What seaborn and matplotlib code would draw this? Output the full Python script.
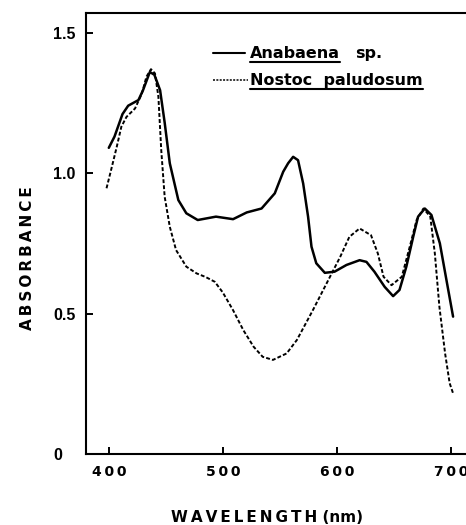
import matplotlib
matplotlib.use("Agg")
import matplotlib.pyplot as plt
import numpy as np
import pandas as pd
import seaborn as sns

# ---- data ----
ana_wl = [400, 405, 412, 417, 426, 430, 436, 440, 445, 449, 453.5, 461, 468, 478,
          494, 509, 521, 534, 545.6, 553, 557.3, 561.7, 566, 570.5, 574.8, 577.8,
          582, 589.5, 598, 608.5, 620, 626, 633, 642, 649.4, 655, 661, 667, 671.3,
          677.2, 683, 690.4, 696.2, 702]
ana_abs = [1.09, 1.13, 1.21, 1.24, 1.26, 1.295, 1.36, 1.35, 1.295, 1.18, 1.035,
           0.904, 0.857, 0.833, 0.845, 0.836, 0.860, 0.874, 0.928, 1.005, 1.035,
           1.058, 1.046, 0.963, 0.845, 0.738, 0.679, 0.645, 0.649, 0.673, 0.690,
           0.684, 0.649, 0.595, 0.562, 0.584, 0.667, 0.773, 0.845, 0.874, 0.851,
           0.750, 0.619, 0.489]

nos_wl = [398, 402, 407, 411, 415.5, 423, 429, 433, 437, 440.5, 443.5, 446, 449,
          453.5, 459, 468, 477, 485, 493, 500, 509, 518, 527, 535, 544, 556, 565,
          579, 591, 603, 611, 620, 630, 636, 641, 648, 657, 664, 670, 676, 682,
          686, 690, 695, 699, 702]
nos_abs = [0.946, 1.011, 1.094, 1.165, 1.20, 1.23, 1.283, 1.343, 1.37, 1.355,
           1.272, 1.082, 0.916, 0.809, 0.726, 0.667, 0.643, 0.63, 0.613, 0.575,
           0.512, 0.441, 0.382, 0.346, 0.335, 0.358, 0.406, 0.512, 0.607, 0.702,
           0.773, 0.803, 0.779, 0.714, 0.631, 0.601, 0.631, 0.738, 0.833, 0.874,
           0.845, 0.714, 0.524, 0.358, 0.252, 0.216]

legend_genus = ["Anabaena", "Nostoc  paludosum"]
legend_suffix = ["sp.", ""]
x_ticks = [400, 500, 600, 700]
y_ticks = [0, 0.5, 1.0, 1.5]
y_tick_labels = ["0", "0.5", "1.0", "1.5"]
x_label = "WAVELENGTH"
x_unit = "(nm)"
y_label = "ABSORBANCE"

# ---- style ----
sns.set_style("ticks")
plt.rcParams["font.family"] = ["DejaVu Sans"]
plt.rcParams["axes.edgecolor"] = "black"
plt.rcParams["xtick.color"] = "black"
plt.rcParams["ytick.color"] = "black"
plt.rcParams["xtick.direction"] = "in"
plt.rcParams["ytick.direction"] = "in"
plt.rcParams["xtick.major.size"] = 5
plt.rcParams["ytick.major.size"] = 5
plt.rcParams["xtick.major.width"] = 1.4
plt.rcParams["ytick.major.width"] = 1.4

W, H = 466, 525
AX_W, AX_H = 387.6, 441
fig = plt.figure(figsize=(W / 100, H / 100), dpi=100)
ax = fig.add_axes([86 / W, 71 / H, AX_W / W, AX_H / H])

df_a = pd.DataFrame({"wavelength": ana_wl, "absorbance": ana_abs})
df_n = pd.DataFrame({"wavelength": nos_wl, "absorbance": nos_abs})

sns.lineplot(data=df_a, x="wavelength", y="absorbance", ax=ax, color="black",
             lw=1.8, sort=False, estimator=None)
sns.lineplot(data=df_n, x="wavelength", y="absorbance", ax=ax, color="black",
             lw=1.4, linestyle=(0, (2.0, 1.1)), sort=False, estimator=None)

ax.set_xlim(380, 720)
ax.set_ylim(0, 1.57)
for s in ax.spines.values():
    s.set_visible(True)
    s.set_linewidth(1.5)

ax.set_xticks(x_ticks)
ax.set_xticklabels(["\u2009".join(str(t)) for t in x_ticks],
                   fontweight="bold", fontsize=10)
ax.set_yticks(y_ticks)
ax.set_yticklabels(y_tick_labels, fontweight="bold", fontsize=11.5,
                   family=["Liberation Sans", "DejaVu Sans"])
for lab in ax.get_yticklabels():
    lab.set_horizontalalignment("left")
ax.tick_params(axis="x", which="major", bottom=True, top=False, pad=7.9)
ax.tick_params(axis="y", which="major", left=True, right=False, pad=23.8)

ax.set_xlabel("\u2009".join(x_label) + " " + x_unit, fontsize=11,
              fontweight="bold", va="center", color="black")
ax.xaxis.set_label_coords(0.467, -0.145)
ax.set_ylabel("\u2009".join(y_label), fontsize=11, fontweight="bold",
              va="center", color="black")
ax.yaxis.set_label_coords(-0.152, 0.444)

# ---- legend (manual, with underlined names) ----
ax.plot([0.328, 0.410], [0.909, 0.909], transform=ax.transAxes,
        color="black", lw=1.5, clip_on=False)
ax.plot([0.328, 0.418], [0.848, 0.848], transform=ax.transAxes,
        color="black", lw=1.1, linestyle=(0, (1.3, 0.9)), clip_on=False)

t1 = ax.text(0.423, 0.898, legend_genus[0], transform=ax.transAxes,
             fontsize=11.5, fontweight="bold", va="baseline", color="black")
ax.text(0.694, 0.898, legend_suffix[0], transform=ax.transAxes,
        fontsize=11.5, fontweight="bold", va="baseline", color="black")
t2 = ax.text(0.423, 0.837, legend_genus[1], transform=ax.transAxes,
             fontsize=11.5, fontweight="bold", va="baseline", color="black")

fig.canvas.draw()
r = fig.canvas.get_renderer()
inv = ax.transAxes.inverted()
for t, yu in [(t1, 0.889), (t2, 0.828)]:
    bb = t.get_window_extent(r)
    x0 = inv.transform((bb.x0, 0))[0]
    x1 = inv.transform((bb.x1, 0))[0]
    ax.plot([x0, x1], [yu, yu], transform=ax.transAxes, color="black",
            lw=1.5, clip_on=False)

# make sure the inward tick marks really show up
ax.tick_params(axis="both", which="major", direction="in", length=5,
               width=1.4, color="black")
fig.canvas.draw()
img = np.asarray(fig.canvas.buffer_rgba())[:, :, :3].astype(float)
xpix = int(round(ax.transData.transform((x_ticks[0], 0))[0]))
ypix = int(round(H - ax.transData.transform((0, 0))[1]))
patch = img[ypix - 7:ypix - 3, xpix - 2:xpix + 3]
if patch.min() > 100:
    tick_h = 6.5 / AX_H
    tick_w = 6.5 / AX_W
    for xt in x_ticks:
        ax.plot([xt, xt], [0, tick_h], transform=ax.get_xaxis_transform(),
                color="black", lw=1.4, clip_on=False, solid_capstyle="butt")
    for yt in y_ticks:
        ax.plot([0, tick_w], [yt, yt], transform=ax.get_yaxis_transform(),
                color="black", lw=1.4, clip_on=False, solid_capstyle="butt")

fig.savefig("out.png", dpi=100)
